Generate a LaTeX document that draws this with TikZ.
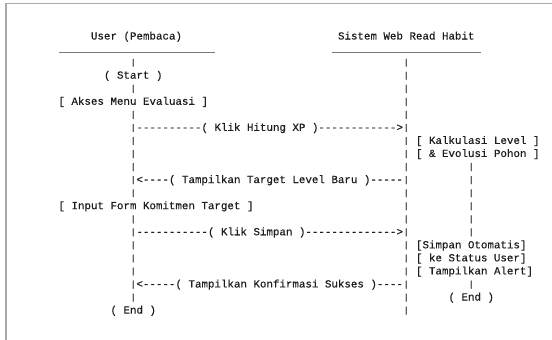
\documentclass[tikz,border=0pt]{standalone}
\usepackage{fontspec}
\usepackage{graphicx}
\setmonofont{Liberation Mono}[FakeBold=0.35]
\definecolor{ink}{HTML}{1E1E1E}
\definecolor{framegray}{HTML}{A9A9A9}
\definecolor{rulegray}{HTML}{7A7A7A}
\tikzset{
  txt/.style={anchor=base west, inner sep=0pt, outer sep=0pt, text=ink,
    font=\ttfamily\fontsize{10.83}{13.05}\selectfont},
  rulel/.style={draw=rulegray, line width=0.9pt},
  framel/.style={draw=framegray, line width=1.6pt}
}
% short vertical bar glyph, as the reference prints it
\newcommand\vb{\raisebox{0.7pt}{\scalebox{1}[0.78]{|}}}
% col c -> x = 6.5 c ; row r -> baseline y = 39.5 + 13.05 r
\newcommand\place[4]{\node[txt] (#1) at ({6.5*#2},{39.5+13.05*#3}) {#4};}
\begin{document}
\begin{tikzpicture}[x=1pt,y=-1pt]
\useasboundingbox (0,0) rectangle (552,340);
\fill[white] (0,0) rectangle (552,340);
\draw[framel] (6,340) -- (6,3.5) -- (552,3.5);

% headers
\place{user}{14}{0}{User (Pembaca)}
\place{sys}{52}{0}{Sistem Web Read Habit}
\coordinate (ulA) at (58.5,52.5);
\coordinate (ulB) at (214.5,52.5);
\coordinate (urA) at (331.5,52.5);
\coordinate (urB) at (481,52.5);
\draw[rulel] (ulA) -- (ulB);
\draw[rulel] (urA) -- (urB);

% left lifeline
\foreach \r in {2,4,6,8,9,10,12,14,16,17,18,20}{\place{lu\r}{20}{\r}{\vb}}
% right lifeline
\foreach \r in {2,3,4,5,6,8,9,10,12,13,14,16,17,18,20,21}{\place{ls\r}{62}{\r}{\vb}}
% system sub column
\foreach \r in {10,11,12,13,14,15,19}{\place{sub\r}{72}{\r}{\vb}}

% user side
\place{start}{16}{3}{( Start )}
\place{akses}{9}{5}{[ Akses Menu Evaluasi ]}
\place{hitung}{20}{7}{\vb----------( Klik Hitung XP )------------>\vb}
\place{target}{20}{11}{\vb<----( Tampilkan Target Level Baru )-----\vb}
\place{input}{9}{13}{[ Input Form Komitmen Target ]}
\place{simpan}{20}{15}{\vb-----------( Klik Simpan )-------------->\vb}
\place{konf}{20}{19}{\vb<-----( Tampilkan Konfirmasi Sukses )----\vb}
\place{endu}{17}{21}{( End )}

% system side
\place{kalk}{64}{8}{[ Kalkulasi Level ]}
\place{evol}{64}{9}{[ \& Evolusi Pohon ]}
\place{sim}{64}{16}{[Simpan Otomatis]}
\place{stat}{64}{17}{[ ke Status User]}
\place{alert}{64}{18}{[ Tampilkan Alert]}
\place{ends}{69}{20}{( End )}
\end{tikzpicture}
\end{document}
